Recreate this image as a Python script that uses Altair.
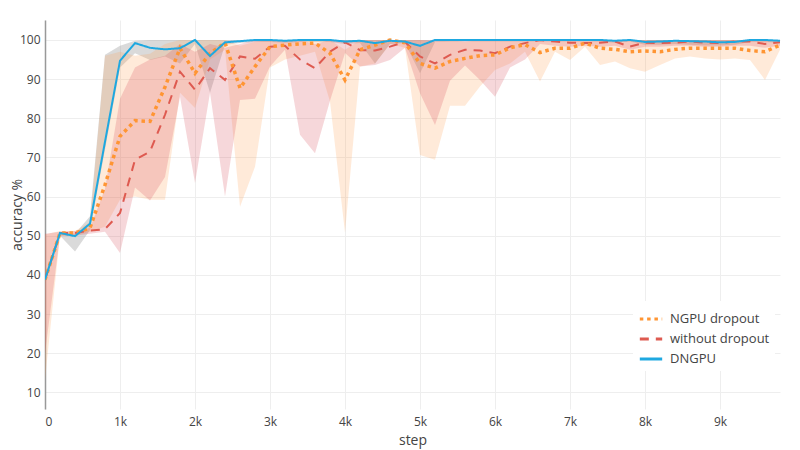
import altair as alt
import pandas as pd

steps = list(range(0, 9801, 200))
series_names = ["NGPU dropout", "without dropout", "DNGPU"]
x_ticks = [0, 1000, 2000, 3000, 4000, 5000, 6000, 7000, 8000, 9000]
y_ticks = [10, 20, 30, 40, 50, 60, 70, 80, 90, 100]

# NGPU dropout
ng_mean = [38.8, 50.7, 50.7, 52.0, 63.0, 75.4, 79.4, 79.2, 88.0, 97.9,
           91.5, 96.6, 99.3, 87.7, 93.2, 98.3, 98.7, 99.0, 99.2, 96.6,
           89.8, 97.5, 98.7, 100.0, 99.3, 94.0, 92.8, 94.5, 95.3, 96.0,
           96.2, 98.0, 98.8, 96.8, 97.9, 97.9, 99.2, 97.9, 97.6, 97.0,
           97.2, 97.0, 97.6, 97.9, 97.9, 97.9, 97.9, 97.3, 97.0, 98.7]
ng_lo = [13.3, 50.0, 50.0, 51.0, 52.3, 59.2, 60.0, 59.2, 59.2, 86.5,
         82.6, 95.0, 97.5, 57.4, 67.6, 93.0, 95.0, 96.0, 97.0, 84.3,
         50.8, 93.2, 94.0, 99.0, 98.0, 70.6, 69.4, 83.2, 83.2, 88.1,
         92.3, 94.0, 97.0, 89.4, 97.0, 94.9, 98.3, 93.6, 94.5, 92.8,
         91.9, 93.6, 95.3, 95.8, 95.3, 95.0, 95.3, 94.9, 89.8, 97.5]
ng_hi = [50.3, 51.2, 51.2, 53.5, 96.0, 97.0, 96.0, 96.5, 99.0, 100.0,
         100.0, 100.0, 100.0, 98.5, 99.5, 100.0, 100.0, 100.0, 100.0, 100.0,
         97.5, 100.0, 100.0, 100.0, 100.0, 100.0, 99.5, 100.0, 99.5, 100.0,
         100.0, 100.0, 100.0, 100.0, 100.0, 100.0, 100.0, 100.0, 100.0, 100.0,
         100.0, 100.0, 100.0, 100.0, 100.0, 100.0, 100.0, 100.0, 100.0, 100.0]

# without dropout
wd_mean = [38.8, 50.7, 50.7, 51.3, 51.7, 55.8, 69.4, 71.5, 80.9, 91.9,
           87.3, 92.8, 89.8, 95.8, 95.2, 98.3, 98.5, 95.0, 92.8, 97.0,
           99.4, 97.4, 97.3, 98.3, 99.5, 95.8, 94.0, 96.2, 97.5, 97.3,
           96.6, 98.3, 99.2, 100.0, 99.6, 99.3, 99.2, 99.3, 99.6, 98.3,
           99.3, 99.2, 99.3, 99.6, 99.3, 99.2, 99.6, 99.6, 99.0, 99.4]
wd_lo = [20.0, 50.0, 50.0, 50.5, 51.0, 45.6, 62.3, 59.0, 65.0, 85.5,
         63.5, 86.5, 60.0, 84.7, 85.0, 93.2, 97.5, 75.8, 71.1, 84.5,
         96.7, 93.2, 93.6, 94.9, 98.0, 86.4, 78.3, 89.6, 93.5, 89.8,
         85.5, 93.0, 95.0, 99.0, 98.5, 98.3, 98.5, 98.3, 98.5, 97.5,
         98.3, 98.3, 98.5, 98.5, 98.3, 98.3, 98.5, 98.5, 98.0, 98.5]
wd_hi = [50.5, 51.0, 51.2, 52.0, 62.0, 85.0, 93.0, 95.0, 96.0, 99.0,
         97.0, 99.0, 98.0, 99.0, 100.0, 100.0, 100.0, 100.0, 99.0, 100.0,
         100.0, 100.0, 100.0, 100.0, 100.0, 100.0, 100.0, 100.0, 100.0, 100.0,
         100.0, 100.0, 100.0, 100.0, 100.0, 100.0, 100.0, 100.0, 100.0, 100.0,
         100.0, 100.0, 100.0, 100.0, 100.0, 100.0, 100.0, 100.0, 100.0, 100.0]

# DNGPU
dn_mean = [38.8, 50.7, 49.9, 53.1, 74.0, 94.7, 99.2, 98.0, 97.6, 97.9,
           100.0, 95.9, 99.4, 99.7, 100.0, 100.0, 99.8, 100.0, 100.0, 100.0,
           99.6, 99.8, 99.2, 99.8, 99.6, 98.5, 100.0, 100.0, 100.0, 100.0,
           100.0, 100.0, 100.0, 100.0, 100.0, 100.0, 100.0, 100.0, 99.8, 100.0,
           99.5, 99.6, 99.8, 99.7, 99.6, 99.4, 99.5, 100.0, 100.0, 99.8]
dn_lo = [38.0, 50.0, 46.0, 51.5, 72.0, 93.0, 96.6, 94.9, 95.8, 94.0,
         99.0, 86.5, 98.8, 99.2, 99.5, 99.5, 99.3, 99.5, 99.5, 99.5,
         99.0, 99.2, 94.0, 99.0, 99.2, 91.5, 99.5, 99.6, 99.6, 99.6,
         99.6, 99.6, 99.6, 99.6, 99.6, 99.6, 99.6, 99.6, 99.3, 99.6,
         98.8, 98.8, 99.0, 98.8, 98.6, 98.6, 98.8, 99.5, 99.5, 99.3]
dn_hi = [40.0, 51.0, 50.5, 55.0, 96.2, 98.5, 99.8, 100.0, 100.0, 100.0,
         100.0, 100.0, 100.0, 100.0, 100.0, 100.0, 100.0, 100.0, 100.0, 100.0,
         100.0, 100.0, 100.0, 100.0, 100.0, 100.0, 100.0, 100.0, 100.0, 100.0,
         100.0, 100.0, 100.0, 100.0, 100.0, 100.0, 100.0, 100.0, 100.0, 100.0,
         100.0, 100.0, 100.0, 100.0, 100.0, 100.0, 100.0, 100.0, 100.0, 100.0]

rows = []
for name, m, lo, hi in [("DNGPU", dn_mean, dn_lo, dn_hi),
                        ("without dropout", wd_mean, wd_lo, wd_hi),
                        ("NGPU dropout", ng_mean, ng_lo, ng_hi)]:
    for s, a, b, c in zip(steps, m, lo, hi):
        rows.append({"step": s, "series": name, "mean": a, "lo": b, "hi": c})
df = pd.DataFrame(rows)

line_colors = ["#ff9533", "#de5a50", "#1ea8e0"]
dashes = [[3.5, 3.8], [9, 7], [1, 0]]
band_styles = [("DNGPU", "#969696", 0.35),
               ("NGPU dropout", "#ffa050", 0.22),
               ("without dropout", "#d74b55", 0.22)]
line_styles = [("without dropout", 2), ("NGPU dropout", 3.5), ("DNGPU", 2)]

x_enc = alt.X("step:Q",
              scale=alt.Scale(domain=[0, 9800], nice=False, zero=False),
              axis=alt.Axis(values=x_ticks, title="step",
                            labelExpr="datum.value == 0 ? '0' : (datum.value / 1000) + 'k'",
                            domain=False, ticks=False, labelPadding=7, titlePadding=6,
                            grid=True))
y_scale = alt.Scale(domain=[5.76, 105.1], nice=False, zero=False)
y_axis = alt.Axis(values=y_ticks, title="accuracy %", ticks=False, labelPadding=5,
                  titleX=-35, titleY=194.5, titleAngle=270, titleBaseline="top",
                  titleAlign="center",
                  domain=True, domainColor="#999999", domainWidth=1.5,
                  grid=True)

legend = alt.Legend(title=None, orient="none", legendX=588, legendY=281,
                    fillColor="white", padding=5, symbolType="stroke",
                    symbolSize=500, symbolStrokeWidth=3,
                    labelFontSize=13, labelOffset=6, rowPadding=0)

layers = []
for name, col, op in band_styles:
    layers.append(
        alt.Chart(df).transform_filter(alt.datum.series == name)
        .mark_area(interpolate="linear", clip=True, color=col, fillOpacity=op)
        .encode(x=x_enc, y=alt.Y("lo:Q", scale=y_scale, axis=y_axis), y2="hi:Q")
    )

for name, w in line_styles:
    layers.append(
        alt.Chart(df).transform_filter(alt.datum.series == name)
        .mark_line(interpolate="linear", clip=True, strokeWidth=w)
        .encode(
            x=x_enc,
            y=alt.Y("mean:Q", scale=y_scale, axis=y_axis),
            stroke=alt.Stroke("series:N", scale=alt.Scale(domain=series_names, range=line_colors),
                              legend=legend),
            strokeDash=alt.StrokeDash("series:N", scale=alt.Scale(domain=series_names, range=dashes),
                                      legend=legend),
        )
    )

chart = alt.layer(*layers).properties(
    width=735, height=389,
    autosize=alt.AutoSizeParams(type="none"),
    padding={"left": 37, "top": 12, "right": 12, "bottom": 45},
).configure(
    font="Open Sans",
).configure_view(
    stroke=None,
).configure_axis(
    gridColor="#eeeeee", gridWidth=1,
    labelFontSize=12, labelColor="#444444", labelFont="Open Sans",
    titleFontSize=14, titleColor="#444444", titleFontWeight="normal", titleFont="Open Sans",
).configure_legend(
    labelColor="#444444", labelFont="Open Sans",
)

chart.save("out.html", embed_options={"renderer": "svg", "actions": False})
